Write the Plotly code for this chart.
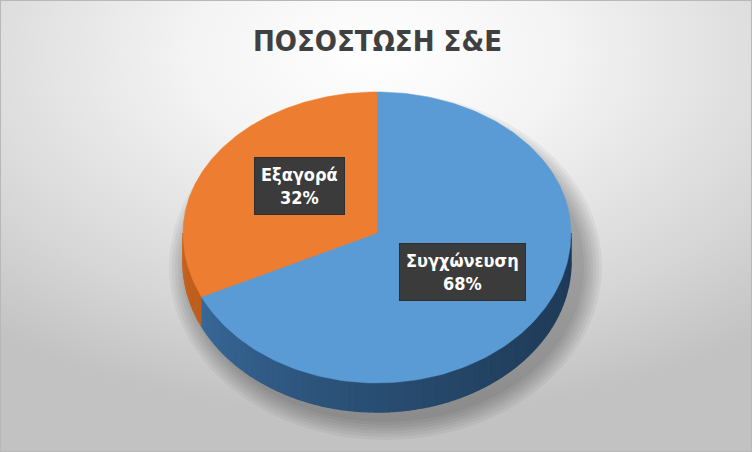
import base64

import numpy as np
import plotly.graph_objects as go

# data
categories = ["Συγχώνευση", "Εξαγορά"]
values = [68, 32]
title_text = "ΠΟΣΟΣΤΩΣΗ Σ&Ε"

# styling
top_colors = ["#5b9bd5", "#ed7d31"]
side_light = ["#3f75ab", "#c8641f"]
side_dark = ["#1e3a56", "#8e4514"]
FONT = "DejaVu Sans Condensed, Liberation Sans Narrow, sans-serif"

W, H = 752, 452
CX, CY = 377, 233
RX, RY_BACK, RY_FRONT = 194, 141, 150
DEPTH = 29
label_pos = [(462, 272), (299, 186)]


def edge(deg, drop=0.0):
    # deg measured clockwise from 12 o'clock, as Excel lays out pie slices
    t = np.radians(deg)
    ry = np.where(np.cos(t) >= 0, RY_BACK, RY_FRONT)
    return CX + RX * np.sin(t), CY - ry * np.cos(t) + drop


def mix(c1, c2, f):
    a = [int(c1[i:i + 2], 16) for i in (1, 3, 5)]
    b = [int(c2[i:i + 2], 16) for i in (1, 3, 5)]
    return "#" + "".join(f"{round(x + (y - x) * f):02x}" for x, y in zip(a, b))


def background_uri():
    svg = f"""<svg xmlns='http://www.w3.org/2000/svg' width='{W}' height='{H}'>
<defs><radialGradient id='g' cx='50%' cy='12%' r='80%' fx='50%' fy='12%'>
<stop offset='0' stop-color='#ffffff'/><stop offset='0.3' stop-color='#f4f4f4'/>
<stop offset='0.75' stop-color='#d6d6d6'/><stop offset='1' stop-color='#c2c2c2'/>
</radialGradient></defs><rect width='100%' height='100%' fill='url(#g)'/></svg>"""
    return "data:image/svg+xml;base64," + base64.b64encode(svg.encode()).decode()


total = sum(values)
ends = np.cumsum(values) / total * 360
starts = ends - np.array(values) / total * 360

fig = go.Figure()

# soft shadow under the pie
shapes = []
for k in range(7):
    grow = 3 + k * 3
    shapes.append(dict(type="circle", xref="x", yref="y", layer="below",
                       x0=CX - RX - grow + 7, x1=CX + RX + grow + 10,
                       y0=CY - RY_BACK - grow + 22, y1=CY + RY_FRONT + DEPTH + grow + 7,
                       fillcolor="rgba(0,0,0,0.045)", line_width=0))
shapes.append(dict(type="rect", xref="paper", yref="paper", x0=0, x1=1, y0=0, y1=1,
                   line=dict(color="#b8b8b8", width=2)))

# sides (front half only)
for i, (a0, a1) in enumerate(zip(starts, ends)):
    s0, s1 = max(a0, 90), min(a1, 270)
    if s1 <= s0:
        continue
    n = max(2, int((s1 - s0) / 2))
    cuts = np.linspace(s0, s1, n + 1)
    for b0, b1 in zip(cuts[:-1], cuts[1:]):
        arc = np.linspace(b0, b1, 5)
        xt, yt = edge(arc)
        xb, yb = edge(arc[::-1], DEPTH)
        f = ((b0 + b1) / 2 - 90) / 180
        col = mix(side_dark[i], side_light[i], f ** 1.6)
        fig.add_trace(go.Scatter(x=np.r_[xt, xb], y=np.r_[yt, yb], fill="toself",
                                 mode="lines", line=dict(width=1.5, color=col),
                                 fillcolor=col, hoverinfo="skip", showlegend=False))

# top faces
for i, (a0, a1) in enumerate(zip(starts, ends)):
    arc = np.linspace(a0, a1, 200)
    xs, ys = edge(arc)
    fig.add_trace(go.Scatter(x=np.r_[CX, xs, CX], y=np.r_[CY, ys, CY], fill="toself",
                             mode="lines", line=dict(width=0.5, color=top_colors[i]),
                             fillcolor=top_colors[i], name=categories[i],
                             hoverinfo="name", showlegend=False))

# data labels
for (lx, ly), cat, val in zip(label_pos, categories, values):
    fig.add_annotation(x=lx, y=ly, xref="x", yref="y", showarrow=False,
                       text=f"<b>{cat}<br>{round(val / total * 100)}%</b>",
                       align="center", borderpad=6, bgcolor="#3b3b3b",
                       bordercolor="#2e2e2e", borderwidth=1,
                       font=dict(family=FONT, size=18, color="#ffffff"))

fig.add_annotation(x=CX, y=41, xref="x", yref="y", text=f"<b>{title_text}</b>",
                   showarrow=False, font=dict(family=FONT, size=29, color="#404040"))

fig.update_layout(
    width=W, height=H, margin=dict(l=0, r=0, t=0, b=0),
    paper_bgcolor="#dcdcdc", plot_bgcolor="rgba(0,0,0,0)",
    xaxis=dict(range=[0, W], visible=False, fixedrange=True),
    yaxis=dict(range=[H, 0], visible=False, fixedrange=True),
    shapes=shapes,
    images=[dict(source=background_uri(), xref="paper", yref="paper", x=0, y=1,
                 sizex=1, sizey=1, sizing="stretch", layer="below")],
)

fig.write_html("out.html", config={"displayModeBar": False},
               post_script="document.body.style.margin = '0';")
